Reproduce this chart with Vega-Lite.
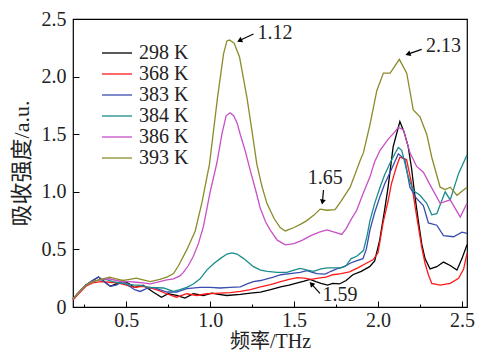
{
"$schema": "https://vega.github.io/schema/vega-lite/v6.json",
"width": 394, "height": 288,
"autosize": "none",
"padding": {"left": 73, "top": 19, "right": 13, "bottom": 46},
"config": {
  "view": {"stroke": "#000", "strokeWidth": 1.2},
  "font": "Liberation Serif",
  "axis": {"labelFont": "Liberation Serif", "labelFontSize": 20, "labelColor": "#222", "titleFont": "Liberation Serif, Noto Sans CJK SC", "titleFontSize": 22, "titleFontWeight": "normal", "titleColor": "#222", "grid": false, "domain": false, "tickColor": "#000", "tickWidth": 1}
},
"datasets": {
"curves": [
{"s":"298 K","x":0.183,"y":0.07},{"s":"298 K","x":0.22,"y":0.13},{"s":"298 K","x":0.26,"y":0.19},{"s":"298 K","x":0.30,"y":0.23},{"s":"298 K","x":0.335,"y":0.26},{"s":"298 K","x":0.37,"y":0.22},{"s":"298 K","x":0.405,"y":0.18},{"s":"298 K","x":0.44,"y":0.20},{"s":"298 K","x":0.48,"y":0.23},{"s":"298 K","x":0.52,"y":0.20},{"s":"298 K","x":0.55,"y":0.17},{"s":"298 K","x":0.60,"y":0.19},{"s":"298 K","x":0.63,"y":0.16},{"s":"298 K","x":0.66,"y":0.13},{"s":"298 K","x":0.71,"y":0.085},{"s":"298 K","x":0.75,"y":0.115},{"s":"298 K","x":0.80,"y":0.10},{"s":"298 K","x":0.85,"y":0.077},{"s":"298 K","x":0.90,"y":0.115},{"s":"298 K","x":0.96,"y":0.10},{"s":"298 K","x":1.01,"y":0.12},{"s":"298 K","x":1.05,"y":0.11},{"s":"298 K","x":1.10,"y":0.10},{"s":"298 K","x":1.18,"y":0.11},{"s":"298 K","x":1.24,"y":0.12},{"s":"298 K","x":1.30,"y":0.13},{"s":"298 K","x":1.36,"y":0.15},{"s":"298 K","x":1.42,"y":0.175},{"s":"298 K","x":1.47,"y":0.19},{"s":"298 K","x":1.52,"y":0.21},{"s":"298 K","x":1.56,"y":0.225},{"s":"298 K","x":1.595,"y":0.24},{"s":"298 K","x":1.63,"y":0.22},{"s":"298 K","x":1.66,"y":0.205},{"s":"298 K","x":1.70,"y":0.19},{"s":"298 K","x":1.73,"y":0.205},{"s":"298 K","x":1.77,"y":0.20},{"s":"298 K","x":1.81,"y":0.23},{"s":"298 K","x":1.85,"y":0.28},{"s":"298 K","x":1.90,"y":0.31},{"s":"298 K","x":1.95,"y":0.35},{"s":"298 K","x":1.98,"y":0.40},{"s":"298 K","x":2.01,"y":0.58},{"s":"298 K","x":2.04,"y":0.85},{"s":"298 K","x":2.06,"y":1.04},{"s":"298 K","x":2.09,"y":1.39},{"s":"298 K","x":2.13,"y":1.61},{"s":"298 K","x":2.155,"y":1.52},{"s":"298 K","x":2.18,"y":1.39},{"s":"298 K","x":2.20,"y":1.2},{"s":"298 K","x":2.22,"y":0.96},{"s":"298 K","x":2.24,"y":0.75},{"s":"298 K","x":2.26,"y":0.55},{"s":"298 K","x":2.28,"y":0.42},{"s":"298 K","x":2.31,"y":0.33},{"s":"298 K","x":2.35,"y":0.35},{"s":"298 K","x":2.39,"y":0.39},{"s":"298 K","x":2.43,"y":0.36},{"s":"298 K","x":2.47,"y":0.32},{"s":"298 K","x":2.50,"y":0.42},{"s":"298 K","x":2.53,"y":0.54},
{"s":"368 K","x":0.183,"y":0.06},{"s":"368 K","x":0.22,"y":0.12},{"s":"368 K","x":0.26,"y":0.18},{"s":"368 K","x":0.30,"y":0.21},{"s":"368 K","x":0.35,"y":0.22},{"s":"368 K","x":0.40,"y":0.215},{"s":"368 K","x":0.45,"y":0.21},{"s":"368 K","x":0.50,"y":0.19},{"s":"368 K","x":0.55,"y":0.17},{"s":"368 K","x":0.60,"y":0.18},{"s":"368 K","x":0.66,"y":0.16},{"s":"368 K","x":0.70,"y":0.14},{"s":"368 K","x":0.74,"y":0.115},{"s":"368 K","x":0.80,"y":0.085},{"s":"368 K","x":0.86,"y":0.115},{"s":"368 K","x":0.92,"y":0.10},{"s":"368 K","x":0.98,"y":0.115},{"s":"368 K","x":1.06,"y":0.12},{"s":"368 K","x":1.12,"y":0.125},{"s":"368 K","x":1.18,"y":0.135},{"s":"368 K","x":1.24,"y":0.15},{"s":"368 K","x":1.30,"y":0.175},{"s":"368 K","x":1.36,"y":0.195},{"s":"368 K","x":1.42,"y":0.22},{"s":"368 K","x":1.47,"y":0.24},{"s":"368 K","x":1.52,"y":0.255},{"s":"368 K","x":1.56,"y":0.25},{"s":"368 K","x":1.60,"y":0.24},{"s":"368 K","x":1.645,"y":0.25},{"s":"368 K","x":1.69,"y":0.26},{"s":"368 K","x":1.73,"y":0.28},{"s":"368 K","x":1.78,"y":0.29},{"s":"368 K","x":1.83,"y":0.305},{"s":"368 K","x":1.88,"y":0.34},{"s":"368 K","x":1.93,"y":0.38},{"s":"368 K","x":1.97,"y":0.41},{"s":"368 K","x":2.00,"y":0.47},{"s":"368 K","x":2.03,"y":0.73},{"s":"368 K","x":2.06,"y":0.92},{"s":"368 K","x":2.08,"y":1.07},{"s":"368 K","x":2.11,"y":1.22},{"s":"368 K","x":2.13,"y":1.30},{"s":"368 K","x":2.17,"y":1.28},{"s":"368 K","x":2.20,"y":1.07},{"s":"368 K","x":2.22,"y":0.88},{"s":"368 K","x":2.24,"y":0.70},{"s":"368 K","x":2.26,"y":0.52},{"s":"368 K","x":2.28,"y":0.38},{"s":"368 K","x":2.30,"y":0.28},{"s":"368 K","x":2.32,"y":0.205},{"s":"368 K","x":2.37,"y":0.19},{"s":"368 K","x":2.43,"y":0.205},{"s":"368 K","x":2.48,"y":0.25},{"s":"368 K","x":2.51,"y":0.33},{"s":"368 K","x":2.53,"y":0.465},
{"s":"383 K","x":0.183,"y":0.07},{"s":"383 K","x":0.22,"y":0.13},{"s":"383 K","x":0.26,"y":0.19},{"s":"383 K","x":0.30,"y":0.23},{"s":"383 K","x":0.335,"y":0.26},{"s":"383 K","x":0.37,"y":0.22},{"s":"383 K","x":0.405,"y":0.18},{"s":"383 K","x":0.44,"y":0.19},{"s":"383 K","x":0.48,"y":0.22},{"s":"383 K","x":0.52,"y":0.18},{"s":"383 K","x":0.55,"y":0.15},{"s":"383 K","x":0.583,"y":0.135},{"s":"383 K","x":0.62,"y":0.16},{"s":"383 K","x":0.663,"y":0.17},{"s":"383 K","x":0.70,"y":0.15},{"s":"383 K","x":0.742,"y":0.13},{"s":"383 K","x":0.80,"y":0.13},{"s":"383 K","x":0.861,"y":0.16},{"s":"383 K","x":0.94,"y":0.17},{"s":"383 K","x":1.00,"y":0.17},{"s":"383 K","x":1.06,"y":0.165},{"s":"383 K","x":1.12,"y":0.17},{"s":"383 K","x":1.18,"y":0.175},{"s":"383 K","x":1.22,"y":0.20},{"s":"383 K","x":1.258,"y":0.22},{"s":"383 K","x":1.30,"y":0.23},{"s":"383 K","x":1.377,"y":0.26},{"s":"383 K","x":1.42,"y":0.28},{"s":"383 K","x":1.476,"y":0.29},{"s":"383 K","x":1.536,"y":0.30},{"s":"383 K","x":1.576,"y":0.315},{"s":"383 K","x":1.61,"y":0.30},{"s":"383 K","x":1.635,"y":0.29},{"s":"383 K","x":1.685,"y":0.285},{"s":"383 K","x":1.72,"y":0.31},{"s":"383 K","x":1.754,"y":0.33},{"s":"383 K","x":1.80,"y":0.35},{"s":"383 K","x":1.834,"y":0.38},{"s":"383 K","x":1.87,"y":0.40},{"s":"383 K","x":1.91,"y":0.42},{"s":"383 K","x":1.93,"y":0.50},{"s":"383 K","x":1.952,"y":0.67},{"s":"383 K","x":1.98,"y":0.82},{"s":"383 K","x":2.012,"y":0.96},{"s":"383 K","x":2.04,"y":1.07},{"s":"383 K","x":2.072,"y":1.17},{"s":"383 K","x":2.10,"y":1.26},{"s":"383 K","x":2.121,"y":1.33},{"s":"383 K","x":2.16,"y":1.28},{"s":"383 K","x":2.19,"y":1.04},{"s":"383 K","x":2.23,"y":0.94},{"s":"383 K","x":2.27,"y":0.88},{"s":"383 K","x":2.30,"y":0.73},{"s":"383 K","x":2.35,"y":0.71},{"s":"383 K","x":2.39,"y":0.62},{"s":"383 K","x":2.45,"y":0.61},{"s":"383 K","x":2.50,"y":0.65},{"s":"383 K","x":2.53,"y":0.64},
{"s":"384 K","x":0.183,"y":0.07},{"s":"384 K","x":0.22,"y":0.13},{"s":"384 K","x":0.26,"y":0.19},{"s":"384 K","x":0.30,"y":0.22},{"s":"384 K","x":0.34,"y":0.235},{"s":"384 K","x":0.38,"y":0.24},{"s":"384 K","x":0.42,"y":0.22},{"s":"384 K","x":0.46,"y":0.21},{"s":"384 K","x":0.50,"y":0.20},{"s":"384 K","x":0.55,"y":0.19},{"s":"384 K","x":0.58,"y":0.19},{"s":"384 K","x":0.62,"y":0.175},{"s":"384 K","x":0.65,"y":0.17},{"s":"384 K","x":0.722,"y":0.165},{"s":"384 K","x":0.782,"y":0.135},{"s":"384 K","x":0.82,"y":0.15},{"s":"384 K","x":0.861,"y":0.17},{"s":"384 K","x":0.90,"y":0.20},{"s":"384 K","x":0.94,"y":0.245},{"s":"384 K","x":0.98,"y":0.32},{"s":"384 K","x":1.02,"y":0.375},{"s":"384 K","x":1.06,"y":0.42},{"s":"384 K","x":1.10,"y":0.46},{"s":"384 K","x":1.13,"y":0.47},{"s":"384 K","x":1.16,"y":0.46},{"s":"384 K","x":1.20,"y":0.42},{"s":"384 K","x":1.258,"y":0.35},{"s":"384 K","x":1.30,"y":0.32},{"s":"384 K","x":1.34,"y":0.31},{"s":"384 K","x":1.40,"y":0.30},{"s":"384 K","x":1.457,"y":0.30},{"s":"384 K","x":1.50,"y":0.32},{"s":"384 K","x":1.536,"y":0.335},{"s":"384 K","x":1.58,"y":0.32},{"s":"384 K","x":1.615,"y":0.31},{"s":"384 K","x":1.66,"y":0.33},{"s":"384 K","x":1.70,"y":0.34},{"s":"384 K","x":1.75,"y":0.34},{"s":"384 K","x":1.78,"y":0.34},{"s":"384 K","x":1.81,"y":0.36},{"s":"384 K","x":1.84,"y":0.42},{"s":"384 K","x":1.873,"y":0.44},{"s":"384 K","x":1.913,"y":0.49},{"s":"384 K","x":1.935,"y":0.62},{"s":"384 K","x":1.952,"y":0.75},{"s":"384 K","x":1.98,"y":0.90},{"s":"384 K","x":2.012,"y":1.04},{"s":"384 K","x":2.04,"y":1.15},{"s":"384 K","x":2.072,"y":1.25},{"s":"384 K","x":2.10,"y":1.33},{"s":"384 K","x":2.121,"y":1.385},{"s":"384 K","x":2.141,"y":1.36},{"s":"384 K","x":2.16,"y":1.25},{"s":"384 K","x":2.18,"y":1.13},{"s":"384 K","x":2.21,"y":1.01},{"s":"384 K","x":2.25,"y":0.97},{"s":"384 K","x":2.29,"y":0.90},{"s":"384 K","x":2.32,"y":0.80},{"s":"384 K","x":2.35,"y":0.81},{"s":"384 K","x":2.40,"y":1.00},{"s":"384 K","x":2.43,"y":0.93},{"s":"384 K","x":2.48,"y":1.16},{"s":"384 K","x":2.53,"y":1.32},
{"s":"386 K","x":0.183,"y":0.07},{"s":"386 K","x":0.22,"y":0.13},{"s":"386 K","x":0.26,"y":0.19},{"s":"386 K","x":0.30,"y":0.22},{"s":"386 K","x":0.35,"y":0.24},{"s":"386 K","x":0.40,"y":0.245},{"s":"386 K","x":0.44,"y":0.23},{"s":"386 K","x":0.48,"y":0.22},{"s":"386 K","x":0.52,"y":0.22},{"s":"386 K","x":0.56,"y":0.215},{"s":"386 K","x":0.60,"y":0.21},{"s":"386 K","x":0.643,"y":0.20},{"s":"386 K","x":0.70,"y":0.22},{"s":"386 K","x":0.742,"y":0.235},{"s":"386 K","x":0.782,"y":0.245},{"s":"386 K","x":0.82,"y":0.27},{"s":"386 K","x":0.841,"y":0.30},{"s":"386 K","x":0.87,"y":0.36},{"s":"386 K","x":0.90,"y":0.44},{"s":"386 K","x":0.93,"y":0.55},{"s":"386 K","x":0.96,"y":0.70},{"s":"386 K","x":1.00,"y":1.00},{"s":"386 K","x":1.04,"y":1.25},{"s":"386 K","x":1.07,"y":1.50},{"s":"386 K","x":1.095,"y":1.66},{"s":"386 K","x":1.119,"y":1.686},{"s":"386 K","x":1.14,"y":1.66},{"s":"386 K","x":1.16,"y":1.60},{"s":"386 K","x":1.179,"y":1.50},{"s":"386 K","x":1.21,"y":1.35},{"s":"386 K","x":1.238,"y":1.19},{"s":"386 K","x":1.27,"y":1.02},{"s":"386 K","x":1.298,"y":0.86},{"s":"386 K","x":1.33,"y":0.74},{"s":"386 K","x":1.357,"y":0.67},{"s":"386 K","x":1.40,"y":0.58},{"s":"386 K","x":1.447,"y":0.54},{"s":"386 K","x":1.50,"y":0.55},{"s":"386 K","x":1.55,"y":0.58},{"s":"386 K","x":1.60,"y":0.62},{"s":"386 K","x":1.65,"y":0.65},{"s":"386 K","x":1.695,"y":0.67},{"s":"386 K","x":1.74,"y":0.65},{"s":"386 K","x":1.784,"y":0.63},{"s":"386 K","x":1.81,"y":0.68},{"s":"386 K","x":1.84,"y":0.76},{"s":"386 K","x":1.873,"y":0.84},{"s":"386 K","x":1.91,"y":0.98},{"s":"386 K","x":1.952,"y":1.13},{"s":"386 K","x":1.98,"y":1.26},{"s":"386 K","x":2.012,"y":1.36},{"s":"386 K","x":2.062,"y":1.46},{"s":"386 K","x":2.10,"y":1.52},{"s":"386 K","x":2.121,"y":1.56},{"s":"386 K","x":2.151,"y":1.54},{"s":"386 K","x":2.19,"y":1.34},{"s":"386 K","x":2.23,"y":1.22},{"s":"386 K","x":2.27,"y":1.17},{"s":"386 K","x":2.31,"y":1.06},{"s":"386 K","x":2.37,"y":0.90},{"s":"386 K","x":2.43,"y":0.93},{"s":"386 K","x":2.49,"y":0.78},{"s":"386 K","x":2.53,"y":0.90},
{"s":"393 K","x":0.183,"y":0.07},{"s":"393 K","x":0.22,"y":0.13},{"s":"393 K","x":0.26,"y":0.19},{"s":"393 K","x":0.30,"y":0.22},{"s":"393 K","x":0.35,"y":0.24},{"s":"393 K","x":0.40,"y":0.26},{"s":"393 K","x":0.44,"y":0.245},{"s":"393 K","x":0.48,"y":0.23},{"s":"393 K","x":0.52,"y":0.24},{"s":"393 K","x":0.56,"y":0.25},{"s":"393 K","x":0.60,"y":0.235},{"s":"393 K","x":0.643,"y":0.22},{"s":"393 K","x":0.70,"y":0.24},{"s":"393 K","x":0.742,"y":0.26},{"s":"393 K","x":0.782,"y":0.29},{"s":"393 K","x":0.812,"y":0.36},{"s":"393 K","x":0.862,"y":0.50},{"s":"393 K","x":0.911,"y":0.66},{"s":"393 K","x":0.95,"y":0.90},{"s":"393 K","x":0.996,"y":1.24},{"s":"393 K","x":1.044,"y":1.82},{"s":"393 K","x":1.08,"y":2.20},{"s":"393 K","x":1.10,"y":2.31},{"s":"393 K","x":1.115,"y":2.317},{"s":"393 K","x":1.143,"y":2.29},{"s":"393 K","x":1.175,"y":2.17},{"s":"393 K","x":1.219,"y":1.82},{"s":"393 K","x":1.25,"y":1.52},{"s":"393 K","x":1.278,"y":1.24},{"s":"393 K","x":1.308,"y":1.05},{"s":"393 K","x":1.338,"y":0.90},{"s":"393 K","x":1.38,"y":0.77},{"s":"393 K","x":1.417,"y":0.69},{"s":"393 K","x":1.447,"y":0.66},{"s":"393 K","x":1.50,"y":0.69},{"s":"393 K","x":1.54,"y":0.72},{"s":"393 K","x":1.576,"y":0.75},{"s":"393 K","x":1.62,"y":0.80},{"s":"393 K","x":1.655,"y":0.85},{"s":"393 K","x":1.695,"y":0.84},{"s":"393 K","x":1.744,"y":0.845},{"s":"393 K","x":1.78,"y":0.92},{"s":"393 K","x":1.834,"y":1.04},{"s":"393 K","x":1.893,"y":1.27},{"s":"393 K","x":1.913,"y":1.34},{"s":"393 K","x":1.953,"y":1.59},{"s":"393 K","x":1.993,"y":1.88},{"s":"393 K","x":2.032,"y":2.03},{"s":"393 K","x":2.072,"y":2.03},{"s":"393 K","x":2.10,"y":2.09},{"s":"393 K","x":2.127,"y":2.15},{"s":"393 K","x":2.171,"y":2.03},{"s":"393 K","x":2.21,"y":1.71},{"s":"393 K","x":2.25,"y":1.65},{"s":"393 K","x":2.29,"y":1.50},{"s":"393 K","x":2.32,"y":1.30},{"s":"393 K","x":2.37,"y":1.04},{"s":"393 K","x":2.40,"y":1.02},{"s":"393 K","x":2.43,"y":1.04},{"s":"393 K","x":2.47,"y":0.97},{"s":"393 K","x":2.53,"y":1.04}
],
"notes": [
{"t":"1.12","x":1.387,"y":2.38},{"t":"2.13","x":2.39,"y":2.265},{"t":"1.65","x":1.685,"y":1.116},{"t":"1.59","x":1.774,"y":0.103}
],
"arrows": [
{"id":"a","x":1.258,"y":2.37,"x2":1.175,"y2":2.313},
{"id":"b","x":2.26,"y":2.236,"x2":2.178,"y2":2.195},
{"id":"c","x":1.675,"y":1.015,"x2":1.669,"y2":0.911},
{"id":"d","x":1.654,"y":0.118,"x2":1.603,"y2":0.20}
]
},
"layer": [
{
  "data": {"name": "curves"},
  "mark": {"type": "line", "strokeWidth": 1.3},
  "encoding": {
    "x": {"field": "x", "type": "quantitative", "scale": {"domain": [0.183, 2.53], "nice": false, "zero": false},
      "axis": {"title": "频率/THz", "titleFontSize": 20, "values": [0.25,0.5,0.75,1,1.25,1.5,1.75,2,2.25,2.5],
        "labelExpr": "datum.value % 0.5 == 0 ? format(datum.value, '.1f') : ''",
        "tickSize": {"condition": {"test": "datum.value % 0.5 != 0", "value": -3}, "value": -6},
        "labelPadding": 9, "titlePadding": 1}},
    "y": {"field": "y", "type": "quantitative", "scale": {"domain": [0, 2.5], "nice": false},
      "axis": {"title": "吸收强度/a.u.", "values": [0,0.25,0.5,0.75,1,1.25,1.5,1.75,2,2.25,2.5],
        "labelExpr": "datum.value % 0.5 != 0 ? '' : (datum.value == 0 ? '0' : format(datum.value, '.1f'))",
        "tickSize": {"condition": {"test": "datum.value % 0.5 != 0", "value": -3}, "value": -6},
        "labelPadding": 13, "titlePadding": 8}},
    "color": {"field": "s", "type": "nominal",
      "scale": {"domain": ["298 K","368 K","383 K","384 K","386 K","393 K"], "range": ["#000000","#ff1a1a","#3a4caf","#1a8c8c","#c850c8","#8b8b2b"]},
      "legend": {"orient": "none", "legendX": 34, "legendY": 24, "title": null, "padding": 0,
        "symbolType": "M-2,0H2", "symbolSize": 225, "symbolStrokeWidth": 1.3,
        "labelFont": "Liberation Serif", "labelFontSize": 20, "labelColor": "#222", "labelOffset": 12, "rowPadding": 1}}
  }
},
{
  "data": {"name": "arrows"},
  "mark": {"type": "rule", "strokeWidth": 1.2, "color": "#000"},
  "encoding": {"x": {"field": "x", "type": "quantitative"}, "y": {"field": "y", "type": "quantitative"}, "x2": {"field": "x2"}, "y2": {"field": "y2"}}
},
{
  "data": {"name": "arrows"},
  "transform": [{"filter": "datum.id == 'a'"}],
  "mark": {"type": "point", "shape": "triangle-up", "filled": true, "color": "#000", "size": 35, "angle": 245, "opacity": 1},
  "encoding": {"x": {"field": "x2", "type": "quantitative"}, "y": {"field": "y2", "type": "quantitative"}}
},
{
  "data": {"name": "arrows"},
  "transform": [{"filter": "datum.id == 'b'"}],
  "mark": {"type": "point", "shape": "triangle-up", "filled": true, "color": "#000", "size": 35, "angle": 251, "opacity": 1},
  "encoding": {"x": {"field": "x2", "type": "quantitative"}, "y": {"field": "y2", "type": "quantitative"}}
},
{
  "data": {"name": "arrows"},
  "transform": [{"filter": "datum.id == 'c'"}],
  "mark": {"type": "point", "shape": "triangle-up", "filled": true, "color": "#000", "size": 35, "angle": 190, "opacity": 1},
  "encoding": {"x": {"field": "x2", "type": "quantitative"}, "y": {"field": "y2", "type": "quantitative"}}
},
{
  "data": {"name": "arrows"},
  "transform": [{"filter": "datum.id == 'd'"}],
  "mark": {"type": "point", "shape": "triangle-up", "filled": true, "color": "#000", "size": 35, "angle": 317, "opacity": 1},
  "encoding": {"x": {"field": "x2", "type": "quantitative"}, "y": {"field": "y2", "type": "quantitative"}}
},
{
  "data": {"name": "notes"},
  "mark": {"type": "text", "font": "Liberation Serif", "fontSize": 20, "color": "#222", "align": "center", "baseline": "middle"},
  "encoding": {"x": {"field": "x", "type": "quantitative"}, "y": {"field": "y", "type": "quantitative"}, "text": {"field": "t"}}
}
]
}
